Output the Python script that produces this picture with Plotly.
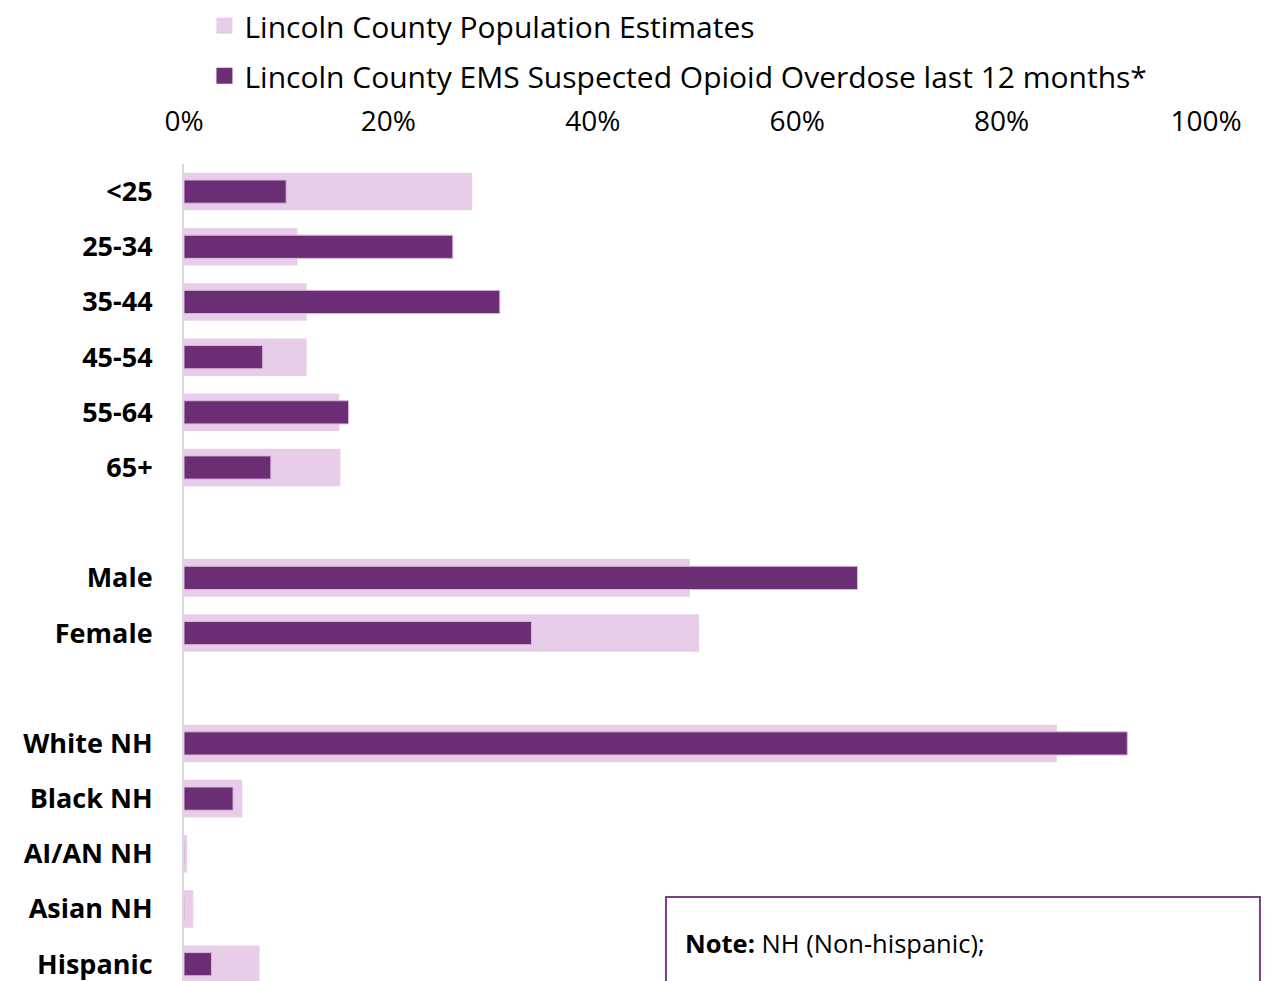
import plotly.graph_objects as go

categories = ["<25", "25-34", "35-44", "45-54", "55-64", "65+", " ",
              "Male", "Female", "  ",
              "White NH", "Black NH", "AI/AN NH", "Asian NH", "Hispanic"]
population = [28.2, 11.1, 12.0, 12.0, 15.2, 15.3, None,
              49.5, 50.4, None,
              85.4, 5.7, 0.3, 0.9, 7.4]
ems = [10.0, 26.3, 30.9, 7.7, 16.1, 8.5, None,
       65.9, 34.0, None,
       92.3, 4.8, 0.0, 0.0, 2.7]
series_names = ["Lincoln County Population Estimates",
                "Lincoln County EMS Suspected Opioid Overdose last 12 months*"]
tick_vals = [0, 20, 40, 60, 80, 100]
tick_text = ["0%", "20%", "40%", "60%", "80%", "100%"]

LIGHT = "#E8CDE9"
DARK = "#6B2D74"
FONT = "Open Sans"

fig = go.Figure()
fig.add_trace(go.Bar(
    y=categories, x=population, orientation="h", name=series_names[0],
    marker=dict(color=LIGHT, line=dict(width=0)), width=0.68, showlegend=False))
fig.add_trace(go.Bar(
    y=categories, x=ems, orientation="h", name=series_names[1],
    marker=dict(color=DARK, line=dict(color="#D9B8DC", width=1)), width=0.42, showlegend=False))

# legend entries (square swatches)
for nm, col, grp in [(series_names[0], LIGHT, "a"), (series_names[1], DARK, "b")]:
    fig.add_trace(go.Scatter(x=[None], y=[None], mode="markers", name=nm,
                             marker=dict(symbol="square", size=18, color=col),
                             legendgroup=grp, hoverinfo="skip"))

fig.update_layout(
    width=1274, height=981,
    margin=dict(l=176, r=76, t=156, b=0, autoexpand=False),
    barmode="overlay",
    plot_bgcolor="white", paper_bgcolor="white",
    font=dict(family=FONT, color="black"),
    showlegend=True,
    legend=dict(x=0.02, y=1.199, xref="paper", yref="paper", xanchor="left", yanchor="top",
                orientation="v", traceorder="grouped", tracegroupgap=8,
                font=dict(size=30, family=FONT), itemwidth=30, bgcolor="rgba(0,0,0,0)"),
    xaxis=dict(range=[0, 100], side="top", tickvals=tick_vals, ticktext=tick_text,
               showgrid=False, zeroline=False, showline=False, automargin=False,
               tickfont=dict(size=28, family=FONT), ticklabelstandoff=26),
    yaxis=dict(categoryorder="array", categoryarray=categories,
               range=[14.45, -0.5], showgrid=False, zeroline=False, automargin=False,
               showline=True, linecolor="#D9D9D9", linewidth=2,
               tickfont=dict(size=27, family=FONT, weight="bold"),
               ticklabelstandoff=24, ticks=""),
)

fig.add_shape(type="rect", xref="paper", yref="paper",
              x0=0.4716, x1=1.0528, y0=-0.1, y1=0.1115,
              line=dict(color="#7B3F86", width=2), fillcolor="white", layer="above")
fig.add_annotation(xref="paper", yref="paper", x=0.488, y=0.056, xanchor="left", yanchor="middle",
                   text="<b>Note:</b> NH (Non-hispanic);", showarrow=False,
                   font=dict(size=25.5, family=FONT, color="black"))

fig.write_html("out.html")
